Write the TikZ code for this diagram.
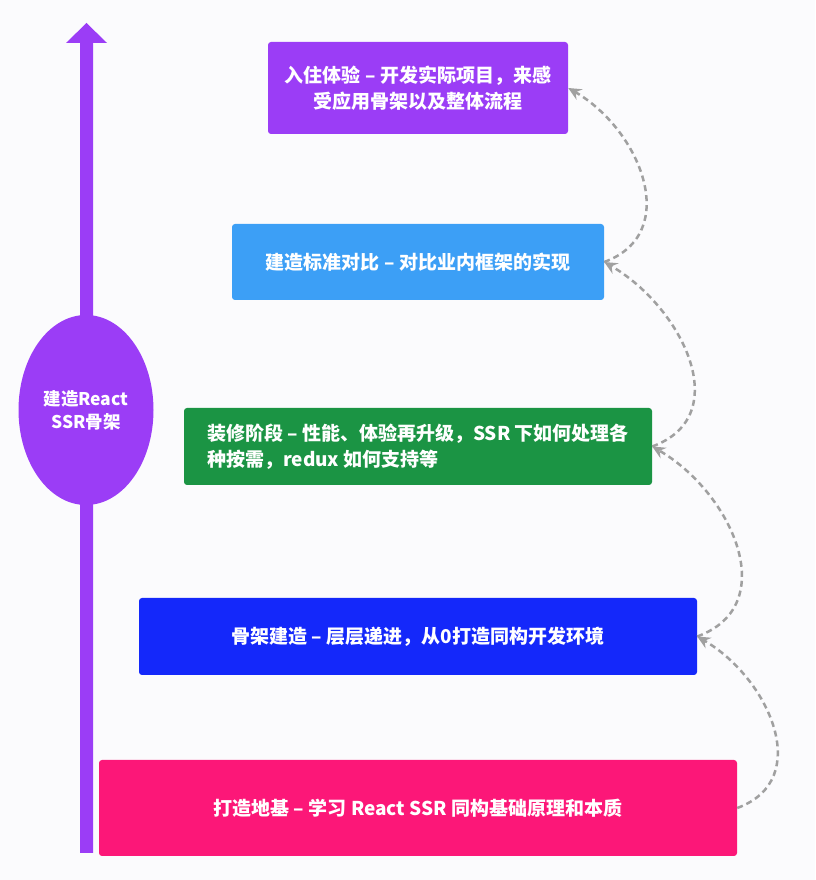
\documentclass[tikz,border=0pt]{standalone}
\usepackage{fontspec}
\setmainfont{Noto Sans CJK SC}
\usetikzlibrary{shapes.geometric,arrows.meta}

\definecolor{paper}{HTML}{FBFBFD}
\definecolor{axispurple}{HTML}{9B3DF6}
\definecolor{livepurple}{HTML}{9B3DF6}
\definecolor{benchblue}{HTML}{3C9FF6}
\definecolor{decorgreen}{HTML}{1B9444}
\definecolor{frameblue}{HTML}{1428FA}
\definecolor{basepink}{HTML}{FC1778}
\definecolor{linkgray}{HTML}{A0A0A0}

\tikzset{
  stage/.style={rounded corners=3pt, text=white, inner sep=0pt,
    font=\bfseries\fontsize{19}{26}\selectfont},
  link/.style={draw=linkgray, line width=2.5pt, dash pattern=on 6pt off 4pt,
    -{Stealth[length=13pt,width=12pt,inset=4.5pt]}}
}

\begin{document}
\begin{tikzpicture}[x=1pt,y=1pt]
\useasboundingbox[fill=paper] (0,0) rectangle (815,880);
% the big arrow on the left
\fill[axispurple] (80,27) -- (80,837) -- (66,837) -- (86.5,857)
  -- (107,837) -- (93,837) -- (93,27) -- cycle;
\node[ellipse, fill=axispurple, minimum width=135pt, minimum height=190pt,
  text=white, align=center, font=\bfseries\fontsize{17.5}{23}\selectfont]
  (core) at (86,470) {建造React\\SSR骨架};
% stages, bottom to top
\node[stage, fill=basepink, minimum width=638pt, minimum height=96pt]
  (base) at (418,72) {打造地基 – 学习 React SSR 同构基础原理和本质};
\node[stage, fill=frameblue, minimum width=558pt, minimum height=77pt]
  (frame) at (418,243.5) {骨架建造 – 层层递进，从0打造同构开发环境};
\node[stage, fill=decorgreen, minimum width=468pt, minimum height=77pt, align=left]
  (decor) at (418,433.5) {装修阶段 – 性能、体验再升级，SSR 下如何处理各\\种按需，redux 如何支持等};
\node[stage, fill=benchblue, minimum width=372pt, minimum height=76pt]
  (bench) at (418,618) {建造标准对比 – 对比业内框架的实现};
\node[stage, fill=livepurple, minimum width=300pt, minimum height=92pt, align=center]
  (live) at (418,792) {入住体验 – 开发实际项目，来感\\受应用骨架以及整体流程};
% dashed links on the right
\foreach \from/\to in {base/frame, frame/decor, decor/bench, bench/live}
  \draw[link] (\from.east) to[out=20, in=-30, looseness=1.2] (\to.east);
\end{tikzpicture}
\end{document}
